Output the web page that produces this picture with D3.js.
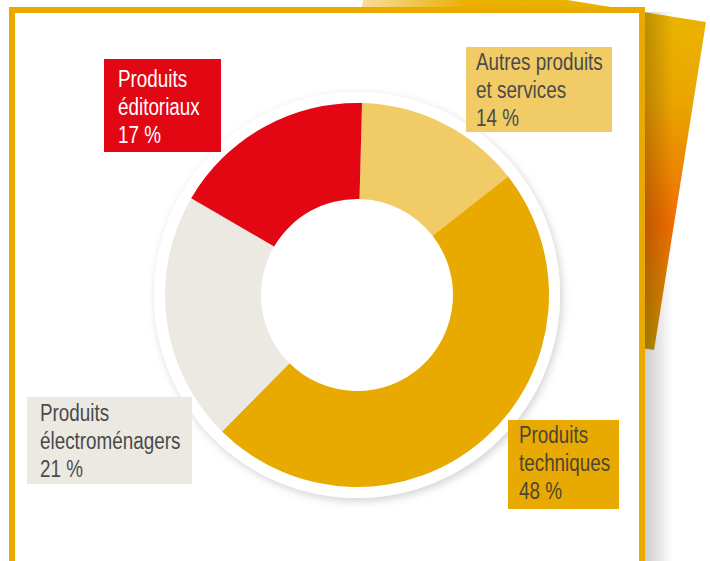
<!DOCTYPE html>
<html>
<head>
<meta charset="utf-8">
<script src="https://cdn.jsdelivr.net/npm/d3@7"></script>
<style>
  html, body { margin: 0; padding: 0; background: #fff; }
  svg { display: block; }
  .lbl { font-family: "Liberation Sans", Arial, sans-serif; font-size: 23px; }
</style>
</head>
<body>
<svg id="chart"></svg>
<script>
// data
const categories = ["Autres produits et services", "Produits techniques", "Produits électroménagers", "Produits éditoriaux"];
const values = [14, 48, 21, 17];
const labelLines = [
  ["Autres produits", "et services", "14 %"],
  ["Produits", "techniques", "48 %"],
  ["Produits", "électroménagers", "21 %"],
  ["Produits", "éditoriaux", "17 %"]
];
const colors = ["#F0CB66", "#E8AA00", "#ECE9E3", "#E30613"];
const textColors = ["#4a4a4a", "#4d4536", "#4a4a4a", "#ffffff"];

// label boxes (layout only)
const boxes = [
  { x: 466, y: 47, w: 146, h: 85, tx: 476, ty: 70 },
  { x: 508, y: 420, w: 111, h: 89, tx: 519, ty: 443 },
  { x: 27, y: 397, w: 165, h: 87, tx: 40, ty: 421 },
  { x: 104, y: 59, w: 117, h: 93, tx: 118, ty: 87 }
];

const svgWidth = 710;
const svgHeight = 561;
const cx = 357, cy = 295;
const outerR = 192, innerR = 96, haloR = 203;
const narrow = 0.82; // condensed look

const svg = d3.select("#chart").attr("width", svgWidth).attr("height", svgHeight);
const defs = svg.append("defs");

// paper gradient
const pg = defs.append("linearGradient").attr("id", "paperGrad")
  .attr("x1", 0).attr("y1", 0).attr("x2", 0).attr("y2", 1);
pg.append("stop").attr("offset", 0).attr("stop-color", "#EAB300");
pg.append("stop").attr("offset", 0.25).attr("stop-color", "#EAA500");
pg.append("stop").attr("offset", 0.62).attr("stop-color", "#EF6C00");
pg.append("stop").attr("offset", 1).attr("stop-color", "#CA9600");

const pf = defs.append("linearGradient").attr("id", "paperFade")
  .attr("x1", 0).attr("y1", 0).attr("x2", 1).attr("y2", 0);
pf.append("stop").attr("offset", 0).attr("stop-color", "#fff").attr("stop-opacity", 0.6);
pf.append("stop").attr("offset", 0.3).attr("stop-color", "#fff").attr("stop-opacity", 0);

const sg = defs.append("linearGradient").attr("id", "shadowGrad")
  .attr("x1", 0).attr("y1", 0).attr("x2", 1).attr("y2", 0);
sg.append("stop").attr("offset", 0).attr("stop-color", "#000").attr("stop-opacity", 0.2);
sg.append("stop").attr("offset", 1).attr("stop-color", "#000").attr("stop-opacity", 0);

const halo = defs.append("filter").attr("id", "haloShadow")
  .attr("x", "-10%").attr("y", "-10%").attr("width", "120%").attr("height", "120%");
halo.append("feDropShadow").attr("dx", 2).attr("dy", 3).attr("stdDeviation", 4)
  .attr("flood-color", "#000").attr("flood-opacity", 0.18);

// back paper, tilted
const paperW = 342, paperH = 332;
const paper = svg.append("g").attr("transform", "translate(706,22) rotate(9)");
paper.append("rect").attr("x", -paperW).attr("y", 0).attr("width", paperW).attr("height", paperH)
  .attr("fill", "url(#paperGrad)");
paper.append("rect").attr("x", -paperW).attr("y", 0).attr("width", paperW).attr("height", paperH)
  .attr("fill", "url(#paperFade)");

// frame shadow
svg.append("rect").attr("x", 645).attr("y", 12).attr("width", 28).attr("height", svgHeight)
  .attr("fill", "url(#shadowGrad)");

// frame
svg.append("rect")
  .attr("x", 12).attr("y", 10).attr("width", 630).attr("height", 600)
  .attr("fill", "#fff").attr("stroke", "#E8AA00").attr("stroke-width", 6);

// donut
const g = svg.append("g").attr("transform", `translate(${cx},${cy})`);
g.append("circle").attr("r", haloR).attr("fill", "#fff").attr("filter", "url(#haloShadow)");

const start = 1.5 * Math.PI / 180;
const pie = d3.pie().sort(null).value(d => d).startAngle(start).endAngle(start + 2 * Math.PI);
const arc = d3.arc().innerRadius(innerR).outerRadius(outerR);

g.selectAll("path.slice")
  .data(pie(values))
  .enter()
  .append("path")
  .attr("class", "slice")
  .attr("d", arc)
  .attr("fill", (d, i) => colors[i]);

// label boxes
const lab = svg.selectAll("g.label").data(categories).enter().append("g").attr("class", "label");
lab.append("rect")
  .attr("x", (d, i) => boxes[i].x).attr("y", (d, i) => boxes[i].y)
  .attr("width", (d, i) => boxes[i].w).attr("height", (d, i) => boxes[i].h)
  .attr("fill", (d, i) => colors[i]);
lab.each(function (d, i) {
  const t = d3.select(this).append("text").attr("class", "lbl")
    .attr("transform", `translate(${boxes[i].tx},${boxes[i].ty}) scale(${narrow},1)`)
    .attr("fill", textColors[i]);
  labelLines[i].forEach((line, j) => {
    t.append("tspan").attr("x", 0).attr("y", j * 28).text(line);
  });
});
</script>
</body>
</html>
